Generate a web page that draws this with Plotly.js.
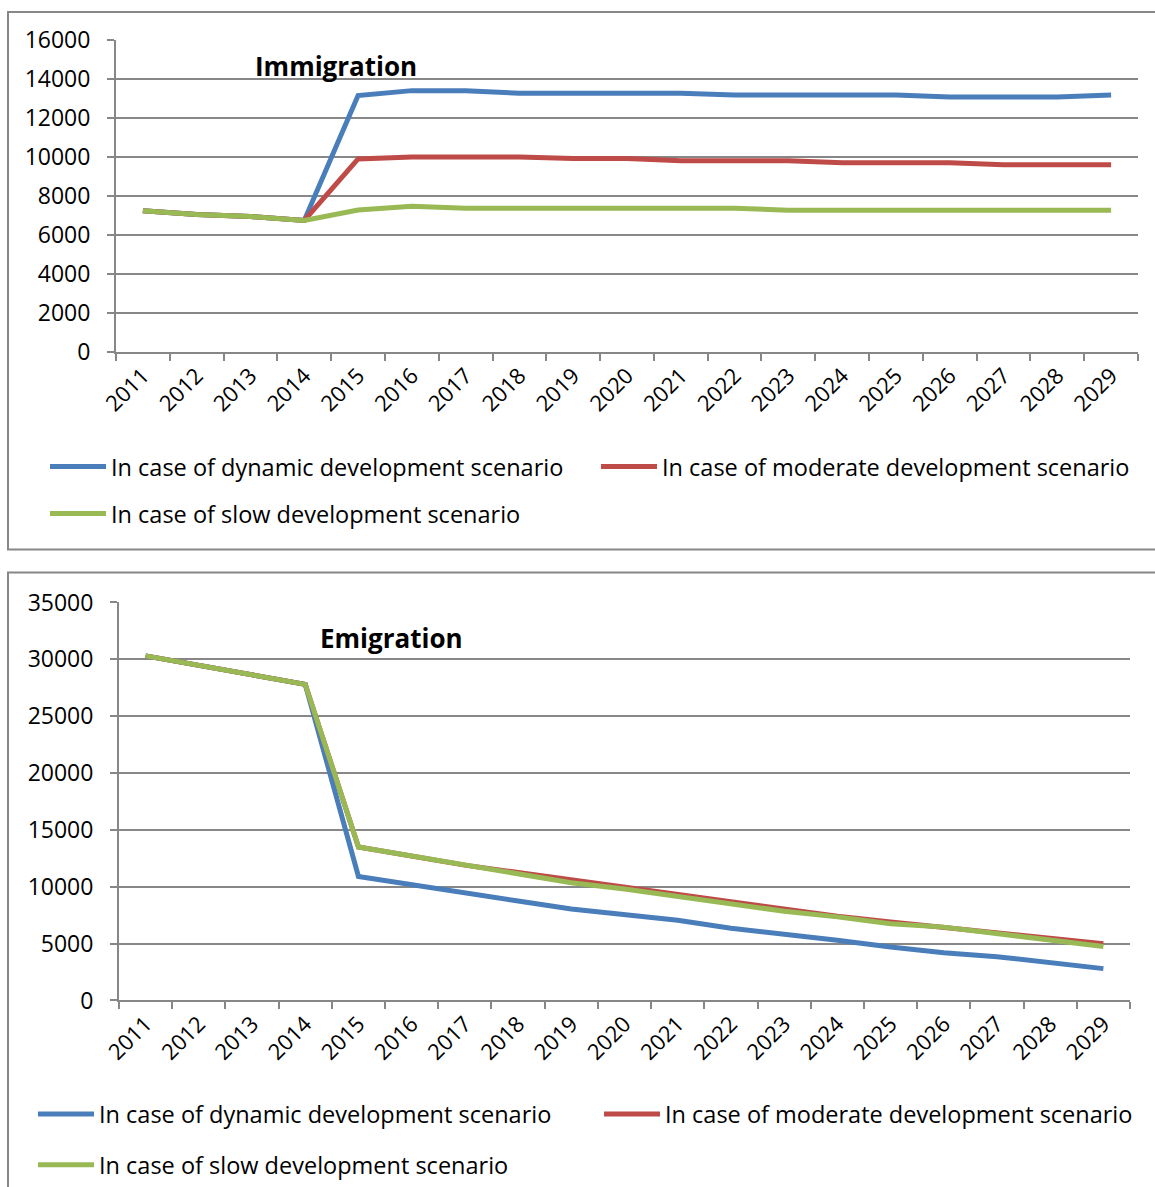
<!DOCTYPE html>
<html>
<head>
<meta charset="utf-8">
<script src="https://cdn.plot.ly/plotly-3.0.1.min.js"></script>
<style>
  html, body { margin: 0; padding: 0; background: #fff; }
  #chart { width: 1155px; height: 1187px; }
</style>
</head>
<body>
<div id="chart"></div>
<script>
// Forecast years
const years = ['2011','2012','2013','2014','2015','2016','2017','2018','2019','2020',
               '2021','2022','2023','2024','2025','2026','2027','2028','2029'];

// Immigration by scenario
const immDynamic  = [7250, 7050, 6950, 6750, 13150, 13400, 13400, 13270, 13270, 13270,
                     13270, 13170, 13170, 13170, 13170, 13070, 13070, 13070, 13170];
const immModerate = [7250, 7050, 6950, 6750, 9900, 10000, 10000, 10000, 9920, 9920,
                     9810, 9810, 9810, 9710, 9710, 9710, 9600, 9600, 9600];
const immSlow     = [7250, 7050, 6950, 6750, 7280, 7470, 7370, 7370, 7370, 7370,
                     7370, 7370, 7270, 7270, 7270, 7270, 7270, 7270, 7270];

// Emigration by scenario
const emiDynamic  = [30300, 29450, 28600, 27800, 10900, 10150, 9450, 8750, 8050, 7600,
                     7050, 6350, 5850, 5300, 4700, 4200, 3850, 3300, 2800];
const emiModerate = [30300, 29450, 28600, 27800, 13500, 12700, 11900, 11250, 10600, 9950,
                     9300, 8600, 7950, 7400, 6900, 6450, 5950, 5500, 5000];
const emiSlow     = [30300, 29450, 28600, 27800, 13500, 12700, 11900, 11150, 10350, 9800,
                     9150, 8450, 7850, 7350, 6750, 6450, 5850, 5350, 4750];

const seriesNames = ['In case of dynamic development scenario',
                     'In case of moderate development scenario',
                     'In case of slow development scenario'];
const seriesColors = ['#4A7EBB', '#BE4B48', '#98B954'];

const W = 1155, H = 1187;
const px = x => x / W;
const py = y => 1 - y / H;

const FONT = '"Open Sans", "Liberation Sans", Arial, sans-serif';
const GRID = '#878787';

function line(x, y, i, xa, ya, legend) {
  return {
    type: 'scatter', mode: 'lines', x: x, y: y,
    name: seriesNames[i], xaxis: xa, yaxis: ya, legend: legend,
    line: { color: seriesColors[i], width: 5 },
    hoverinfo: 'x+y'
  };
}

const data = [
  line(years, immDynamic, 0, 'x', 'y', 'legend'),
  line(years, immModerate, 1, 'x', 'y', 'legend2'),
  line(years, immSlow, 2, 'x', 'y', 'legend3'),
  line(years, emiDynamic, 0, 'x2', 'y2', 'legend4'),
  line(years, emiModerate, 1, 'x2', 'y2', 'legend5'),
  line(years, emiSlow, 2, 'x2', 'y2', 'legend6')
];

function xAxis(domain, anchor) {
  return {
    domain: domain, anchor: anchor, type: 'category',
    range: [-0.5, 18.5], tickson: 'boundaries',
    ticks: 'outside', ticklen: 7, tickwidth: 2, tickcolor: GRID,
    showline: true, linecolor: GRID, linewidth: 2,
    showgrid: false, zeroline: false, tickangle: -45,
    tickfont: { family: FONT, size: 22, color: '#000' },
    fixedrange: true
  };
}
function yAxis(domain, anchor, max, step) {
  return {
    domain: domain, anchor: anchor, range: [0, max], dtick: step, tick0: 0,
    tickformat: 'd',
    ticks: 'outside', ticklen: 7, tickwidth: 2, tickcolor: GRID,
    showline: true, linecolor: GRID, linewidth: 2,
    showgrid: true, gridcolor: GRID, gridwidth: 2, zeroline: false,
    ticklabelstandoff: 12,
    tickfont: { family: FONT, size: 23, color: '#000' },
    fixedrange: true
  };
}

function legendAt(x, y) {
  return {
    x: px(x), y: py(y), xanchor: 'left', yanchor: 'middle',
    orientation: 'h', itemwidth: 56, bgcolor: 'rgba(0,0,0,0)',
    font: { family: FONT, size: 23.5, color: '#000' },
    itemclick: false, itemdoubleclick: false
  };
}

const layout = {
  width: W, height: H,
  margin: { l: 0, r: 0, t: 0, b: 0 },
  paper_bgcolor: '#fff', plot_bgcolor: '#fff',
  showlegend: true,
  xaxis:  xAxis([px(116), px(1138)], 'y'),
  yaxis:  yAxis([py(353), py(40)], 'x', 16000, 2000),
  xaxis2: xAxis([px(119), px(1130)], 'y2'),
  yaxis2: yAxis([py(1003), py(604)], 'x2', 35000, 5000),
  legend:  legendAt(45, 468),
  legend2: legendAt(596, 468),
  legend3: legendAt(45, 515),
  legend4: legendAt(33, 1117),
  legend5: legendAt(599, 1117),
  legend6: legendAt(33, 1168),
  annotations: [
    { text: '<b>Immigration</b>', xref: 'paper', yref: 'paper',
      x: px(336), y: py(66), xanchor: 'center', yanchor: 'middle', showarrow: false,
      font: { family: FONT, size: 26, color: '#000' } },
    { text: '<b>Emigration</b>', xref: 'paper', yref: 'paper',
      x: px(391), y: py(640), xanchor: 'center', yanchor: 'middle', showarrow: false,
      font: { family: FONT, size: 26, color: '#000' } }
  ],
  shapes: [
    { type: 'rect', xref: 'paper', yref: 'paper', layer: 'below',
      x0: px(8), x1: px(1170), y0: py(551), y1: py(12),
      line: { color: GRID, width: 2 }, fillcolor: 'rgba(0,0,0,0)' },
    { type: 'rect', xref: 'paper', yref: 'paper', layer: 'below',
      x0: px(8), x1: px(1170), y0: py(1200), y1: py(574),
      line: { color: GRID, width: 2 }, fillcolor: 'rgba(0,0,0,0)' }
  ]
};

Plotly.newPlot('chart', data, layout, { displayModeBar: false });
</script>
</body>
</html>
